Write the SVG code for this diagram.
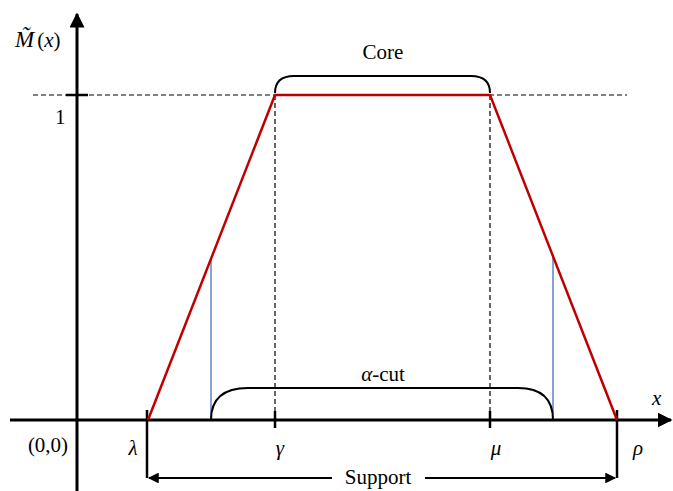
<svg xmlns="http://www.w3.org/2000/svg" width="673" height="491" viewBox="0 0 673 491">
<style>
.ax{stroke:#000;stroke-width:3;fill:none}
.tk{stroke:#000;stroke-width:2.5;fill:none}
.dash{stroke:#000;stroke-width:1.2;stroke-dasharray:5,3;fill:none}
.red{stroke:#c00000;stroke-width:2.5;fill:none;stroke-linejoin:round}
.blue{stroke:#4472c4;stroke-width:1.3;fill:none}
.br{stroke:#000;stroke-width:2;fill:none}
.arr{stroke:#000;stroke-width:1.8;fill:none}
.t{font-size:21px;fill:#000}
.m{font-style:italic}
</style>
<defs>
<marker id="ah" viewBox="0 0 10 10" refX="9" refY="5" markerWidth="5" markerHeight="5" orient="auto"><path d="M0,0 L10,5 L0,10 z" fill="#000"/></marker>
<marker id="ah2" viewBox="0 0 10 10" refX="9" refY="5" markerWidth="7" markerHeight="6" orient="auto"><path d="M0,0 L10,5 L0,10 z" fill="#000"/></marker>
</defs>
<g id="axes">
<line class="ax" x1="77" y1="491" x2="77" y2="14" marker-end="url(#ah)"/>
<line class="ax" x1="10" y1="420" x2="671" y2="420" marker-end="url(#ah)"/>
<line class="tk" x1="66" y1="95" x2="88" y2="95"/>
<line class="dash" x1="33" y1="95" x2="627" y2="95"/>
</g>
<g id="connectors">
<line class="dash" x1="275" y1="95" x2="275" y2="420"/>
<line class="dash" x1="490" y1="95" x2="490" y2="420"/>
<line class="tk" x1="275" y1="411" x2="275" y2="428"/>
<line class="tk" x1="490" y1="411" x2="490" y2="428"/>
<line class="tk" x1="147" y1="410" x2="147" y2="478"/>
<line class="tk" x1="617" y1="410" x2="617" y2="478"/>
<line class="blue" x1="211" y1="259" x2="211" y2="420"/>
<line class="blue" x1="553" y1="256" x2="553" y2="420"/>
<polyline class="red" points="148,420 275,95 490,95 617,420"/>
<path class="br" d="M275,93 Q275,76 294,76 L471,76 Q490,76 490,93"/>
<path class="br" d="M211,420 Q211,388 248,388 L518,388 Q553,388 553,420"/>
<line class="arr" x1="332" y1="478" x2="149" y2="478" marker-end="url(#ah2)"/>
<line class="arr" x1="425" y1="478" x2="615" y2="478" marker-end="url(#ah2)"/>
</g>
<g id="labels" font-family="Liberation Serif, serif">
<text class="t" x="15" y="47"><tspan class="m" font-size="23">M̃</tspan><tspan dx="3">(</tspan><tspan class="m">x</tspan>)</text>
<text class="t" x="55" y="124">1</text>
<text class="t" x="383" y="59" text-anchor="middle">Core</text>
<text class="t" x="383" y="381" text-anchor="middle"><tspan class="m">α</tspan>-cut</text>
<text class="t m" x="652" y="405">x</text>
<text class="t" x="48" y="452" text-anchor="middle">(0,0)</text>
<text class="t m" x="133" y="455" text-anchor="middle">λ</text>
<text class="t m" x="280" y="455" text-anchor="middle">γ</text>
<text class="t m" x="496" y="455" text-anchor="middle">μ</text>
<text class="t m" x="638" y="455" text-anchor="middle">ρ</text>
<text class="t" x="378" y="484" text-anchor="middle">Support</text>
</g>
</svg>
